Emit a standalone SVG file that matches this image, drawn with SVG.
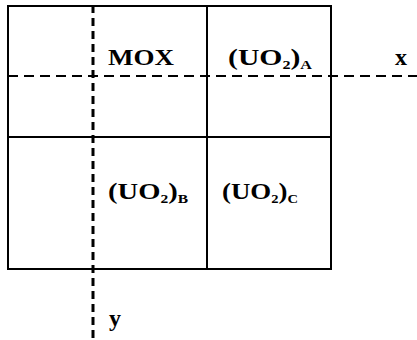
<svg xmlns="http://www.w3.org/2000/svg" width="417" height="340" viewBox="0 0 417 340">
<style>
.grid{fill:none;stroke:#000;stroke-width:2}
.axis{fill:none;stroke:#000}
.lbl{font-family:"Liberation Serif","Times New Roman",serif;font-weight:bold;font-size:24px;fill:#000}
.sub{font-size:13px}
</style>
<rect width="417" height="340" fill="#fff"/>
<g id="grid">
<rect class="grid" x="8" y="6" width="323" height="263"/>
<line class="grid" x1="207" y1="6" x2="207" y2="269"/>
<line class="grid" x1="8" y1="137" x2="331" y2="137"/>
</g>
<g id="connectors">
<line class="axis" x1="93" y1="5" x2="93" y2="340" stroke-width="3" stroke-dasharray="8 5"/>
<line class="axis" x1="8" y1="76" x2="417" y2="76" stroke-width="2" stroke-dasharray="10 6"/>
</g>
<g id="mox"><text class="lbl" x="108" y="65" textLength="66" lengthAdjust="spacingAndGlyphs">MOX</text></g>
<g id="uo2a"><text class="lbl" x="228" y="65" textLength="84" lengthAdjust="spacingAndGlyphs">(UO<tspan class="sub" dy="4">2</tspan><tspan dy="-4">)</tspan><tspan class="sub" dy="4">A</tspan></text></g>
<g id="xlabel"><text class="lbl" x="395" y="65">x</text></g>
<g id="uo2b"><text class="lbl" x="108" y="199" textLength="80" lengthAdjust="spacingAndGlyphs">(UO<tspan class="sub" dy="4">2</tspan><tspan dy="-4">)</tspan><tspan class="sub" dy="4">B</tspan></text></g>
<g id="uo2c"><text class="lbl" x="222" y="199" textLength="76" lengthAdjust="spacingAndGlyphs">(UO<tspan class="sub" dy="4">2</tspan><tspan dy="-4">)</tspan><tspan class="sub" dy="4">C</tspan></text></g>
<g id="ylabel"><text class="lbl" x="109" y="326">y</text></g>
</svg>
